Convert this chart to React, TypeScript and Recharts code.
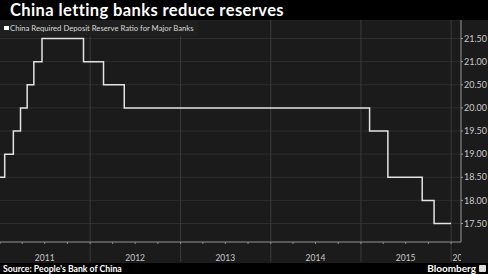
import { LineChart, Line, XAxis, YAxis, CartesianGrid, ReferenceLine, Legend } from 'recharts';

// dates when the required reserve ratio changed (value applies from that date on)
const changeDates = [
  '2010-12-20',
  '2011-01-20',
  '2011-02-24',
  '2011-03-25',
  '2011-04-21',
  '2011-05-18',
  '2011-06-20',
  '2011-12-05',
  '2012-02-24',
  '2012-05-18',
  '2015-02-05',
  '2015-04-20',
  '2015-09-06',
  '2015-10-24',
  '2016-01-01',
];
const reserveRatio = [18.5, 19.0, 19.5, 20.0, 20.5, 21.0, 21.5, 21.0, 20.5, 20.0, 19.5, 18.5, 18.0, 17.5, 17.5];

const yTicks = [17.5, 18.0, 18.5, 19.0, 19.5, 20.0, 20.5, 21.0, 21.5];
const years = [2011, 2012, 2013, 2014, 2015];
const yearBoundaries = ['2012-01-01', '2013-01-01', '2014-01-01', '2015-01-01', '2016-01-01'];
const cutYearLabel = '2016';

const toTime = (d: string) => new Date(d + 'T00:00:00Z').getTime();

const data = changeDates.map((d, i) => ({ t: toTime(d), ratio: reserveRatio[i] }));

// quarter ticks; only the July ones carry a year label
const quarterTicks: number[] = [];
years.forEach((y) => {
  ['01', '04', '07', '10'].forEach((m) => quarterTicks.push(toTime(`${y}-${m}-01`)));
});
quarterTicks.push(toTime('2016-01-01'));

const xDomain = [toTime('2011-01-01'), toTime('2016-02-10')];

const FONT = 'Lato, "Open Sans", sans-serif';
const TEXT = '#c9c9c9';

const YearTick = (props: any) => {
  const { x, y, payload } = props;
  const d = new Date(payload.value);
  const month = d.getUTCMonth();
  const year = d.getUTCFullYear();
  if (month === 6) {
    return (
      <text x={x} y={y} dy={15} textAnchor="middle" fill={TEXT} fontSize={8.5} fontFamily={FONT}>
        {year}
      </text>
    );
  }
  if (String(year) === cutYearLabel && month === 0) {
    return (
      <g>
        <defs>
          <clipPath id="cut-year">
            <rect x={x} y={y} width={10} height={20} />
          </clipPath>
        </defs>
        <text x={x + 1.5} y={y} dy={15} textAnchor="start" fill={TEXT} fontSize={8.5} fontFamily={FONT} clipPath="url(#cut-year)">
          {cutYearLabel}
        </text>
      </g>
    );
  }
  return null;
};

const LegendBox = () => (
  <div
    style={{
      display: 'flex',
      alignItems: 'center',
      height: 16,
      padding: '0 4px 0 4px',
      background: '#1f1f1f',
      fontFamily: FONT,
      fontSize: 7.7,
      color: '#d8d8d8',
      whiteSpace: 'nowrap',
    }}
  >
    <span style={{ display: 'inline-block', width: 4.5, height: 4.5, background: '#fff', marginRight: 1.5 }} />
    China Required Deposit Reserve Ratio for Major Banks
  </div>
);

export default function App() {
  return (
    <div style={{ position: 'absolute', left: 0, top: 0, width: 488, height: 274, background: '#1b1b1b' }}>
      <div
        style={{
          height: 20,
          background: '#000',
          color: '#fff',
          fontFamily: FONT,
          fontWeight: 700,
          fontSize: 16.5,
          letterSpacing: 0.4,
          lineHeight: '20px',
          paddingLeft: 10,
          boxSizing: 'border-box',
          whiteSpace: 'nowrap',
        }}
      >
        China letting banks reduce reserves
      </div>
      <LineChart width={488} height={243} data={data} margin={{ top: 0, right: 0, bottom: 0, left: 0 }}>
        <CartesianGrid vertical={false} stroke="#2e2e2e" strokeWidth={1} />
        <XAxis
          dataKey="t"
          type="number"
          scale="time"
          domain={xDomain}
          allowDataOverflow
          ticks={quarterTicks}
          interval={0}
          height={21}
          stroke="#8c8c8c"
          tickSize={2}
          tick={<YearTick />}
        />
        <YAxis
          orientation="right"
          domain={[17.1, 21.9]}
          allowDataOverflow
          ticks={yTicks}
          interval={0}
          width={27}
          stroke="#9a9a9a"
          tickSize={2}
          tickMargin={1}
          tickFormatter={(v: number) => v.toFixed(2)}
          tick={{ fill: TEXT, fontSize: 9, fontFamily: FONT, textAnchor: 'start' }}
        />
        {yearBoundaries.map((d) => (
          <ReferenceLine
            key={d}
            ifOverflow="visible"
            stroke="#3c3c3c"
            segment={[
              { x: toTime(d), y: 21.9 },
              { x: toTime(d), y: 16.67 },
            ]}
          />
        ))}
        <Legend
          layout="vertical"
          align="center"
          verticalAlign="middle"
          wrapperStyle={{ top: 0, left: 0, width: 'auto' }}
          content={() => <LegendBox />}
        />
        <Line
          type="stepAfter"
          dataKey="ratio"
          stroke="#e2e2e2"
          strokeWidth={1.5}
          dot={false}
          isAnimationActive={false}
          name="China Required Deposit Reserve Ratio for Major Banks"
        />
      </LineChart>
      <div
        style={{
          position: 'absolute',
          left: 0,
          top: 263,
          width: 488,
          height: 11,
          background: '#000',
          color: '#fff',
          fontFamily: FONT,
          overflow: 'hidden',
        }}
      >
        <span style={{ position: 'absolute', left: 3, top: 0, fontSize: 8.7, fontWeight: 700, lineHeight: '11px' }}>
          Source: People's Bank of China
        </span>
        <span style={{ position: 'absolute', right: 12, top: 0, fontSize: 10, fontWeight: 700, lineHeight: '10px' }}>
          Bloomberg
        </span>
        <span
          style={{
            position: 'absolute',
            right: 2,
            top: 2,
            width: 7,
            height: 7,
            background: '#ddd',
            borderRadius: 1,
          }}
        />
      </div>
    </div>
  );
}
